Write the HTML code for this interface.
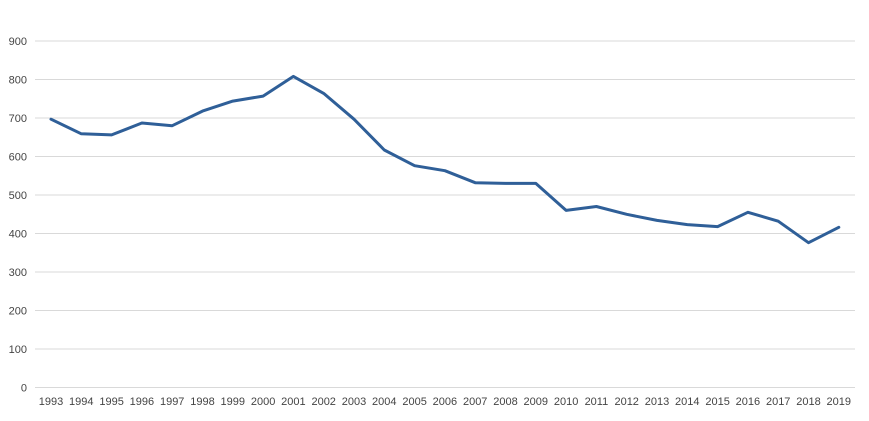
<!DOCTYPE html>
<html><head><meta charset="utf-8"><style>
body{margin:0;background:#fff;width:869px;height:416px;overflow:hidden}
text{font-family:"Liberation Sans",sans-serif;font-size:11px;fill:#444}
</style></head><body>
<svg id="s" width="869" height="416" xmlns="http://www.w3.org/2000/svg"></svg>
<script>
var s=document.getElementById('s'),h='';
function Y(v){return 387.5-v*0.385;}
for(var v=0;v<=900;v+=100){var y=Y(v);
h+='<line x1="35" x2="855" y1="'+y+'" y2="'+y+'" stroke="#d9d9d9" stroke-width="1"/>';
h+='<text x="27" y="'+(y+4)+'" text-anchor="end">'+v+'</text>';}
var d=[697,659,656,687,680,718,744,757,808,764,697,617,576,563,532,530,530,460,470,450,434,423,418,455,432,376,416];
var p=[];
for(var i=0;i<d.length;i++){var x=51+i*30.3;p.push(x.toFixed(1)+','+Y(d[i]).toFixed(1));
h+='<text x="'+x+'" y="405" text-anchor="middle">'+(1993+i)+'</text>';}
h+='<polyline points="'+p.join(' ')+'" fill="none" stroke="#2f5f98" stroke-width="3" stroke-linejoin="round" stroke-linecap="round"/>';
s.innerHTML=h;
</script>
</body></html>
